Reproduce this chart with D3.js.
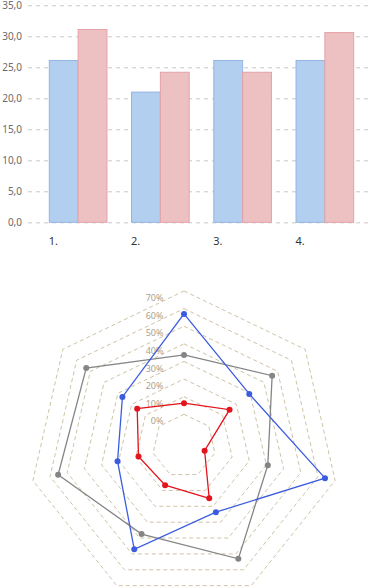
<!DOCTYPE html>
<html><head><meta charset="utf-8">
<script src="https://cdn.jsdelivr.net/npm/d3@7"></script>
<style>body{margin:0;background:#fff}svg{display:block}</style>
</head><body>
<svg id="c" width="374" height="588"></svg>
<script>
// ---- bar chart data ----
const categories = ["1.", "2.", "3.", "4."];
const seriesA = [26.1, 21.0, 26.1, 26.1];
const seriesB = [31.1, 24.2, 24.2, 30.6];
const yTicks = [0, 5, 10, 15, 20, 25, 30, 35];

// ---- radar data ----
const radarTicks = [0, 0.1, 0.2, 0.3, 0.4, 0.5, 0.6, 0.7];
const radarRed  = [0.063, 0.151, -0.06, 0.15, 0.067, 0.085, 0.16];
const radarBlue = [0.57, 0.294, 0.641, 0.237, 0.471, 0.207, 0.267];
const radarGray = [0.337, 0.46, 0.308, 0.531, 0.375, 0.553, 0.53];

const svg = d3.select("#c");
const font = "'Noto Sans', 'DejaVu Sans', sans-serif";

// ===== Bar chart =====
const y = d3.scaleLinear().domain([0, 35]).range([222.3, 5.3]);
const x = d3.scaleBand().domain(categories).range([37, 366]).paddingInner(0.287).paddingOuter(0.1435);
const xs = d3.scaleBand().domain([0, 1]).range([0, x.bandwidth()]);

const gy = svg.append("g").attr("transform", "translate(28,0)")
  .call(d3.axisLeft(y).tickValues(yTicks).tickSize(-344).tickPadding(6)
    .tickFormat(d => d3.format(".1f")(d).replace(".", ",")));
gy.select(".domain").remove();
gy.selectAll(".tick line").attr("stroke", "#c8c8c8").attr("stroke-dasharray", "4,4");
gy.selectAll(".tick text").attr("fill", "#6b6b6b").style("font-family", font).style("font-size", "10px");

const groups = svg.append("g").selectAll("g").data(categories).join("g")
  .attr("transform", d => `translate(${x(d)},0)`);
groups.append("rect")
  .attr("x", xs(0) + 0.5).attr("width", xs.bandwidth() - 0.5)
  .attr("y", (d, i) => y(seriesA[i])).attr("height", (d, i) => y(0) - y(seriesA[i]))
  .attr("fill", "#b3cfef").attr("stroke", "#92b5e3").attr("stroke-width", 1);
groups.append("rect")
  .attr("x", xs(1)).attr("width", xs.bandwidth() - 0.5)
  .attr("y", (d, i) => y(seriesB[i])).attr("height", (d, i) => y(0) - y(seriesB[i]))
  .attr("fill", "#edc0c1").attr("stroke", "#e5a2a6").attr("stroke-width", 1);
groups.append("text").text(d => d)
  .attr("x", 0).attr("y", 245)
  .attr("fill", "#333").style("font-family", font).style("font-size", "11px");

// ===== Radar chart =====
const cx = 184, cy = 446;
const N = 7;
const r = d3.scaleLinear().domain([-0.18, 0.7]).range([0, 155]);
const ang = i => -Math.PI / 2 + i * 2 * Math.PI / N;
const pt = (v, i) => [cx + r(v) * Math.cos(ang(i)), cy + r(v) * Math.sin(ang(i))];

const rg = svg.append("g");
rg.selectAll("polygon.ring").data(radarTicks).join("polygon")
  .attr("class", "ring")
  .attr("points", t => d3.range(N).map(i => pt(t, i).join(",")).join(" "))
  .attr("fill", "none").attr("stroke", "#cfc3a6").attr("stroke-width", 1)
  .attr("stroke-dasharray", "4,3");

rg.selectAll("text.lbl").data(radarTicks).join("text")
  .attr("class", "lbl")
  .attr("x", cx - 20.5).attr("y", t => cy - r(t) + 7).attr("dy", "0.35em")
  .attr("text-anchor", "end")
  .attr("fill", "#ab9f8c").style("font-family", font).style("font-size", "9px")
  .text(t => d3.format(".0%")(t));

const series = [
  {vals: radarGray, color: "#858585"},
  {vals: radarBlue, color: "#3c5ce0"},
  {vals: radarRed, color: "#e3141c"}
];
const line = d3.line().curve(d3.curveLinearClosed);
series.forEach(s => {
  const pts = s.vals.map((v, i) => pt(v, i));
  rg.append("path").attr("d", line(pts)).attr("fill", "none")
    .attr("stroke", s.color).attr("stroke-width", 1.3);
  rg.append("g").selectAll("circle").data(pts).join("circle")
    .attr("cx", d => d[0]).attr("cy", d => d[1]).attr("r", 3)
    .attr("fill", s.color);
});
</script>
</body></html>
